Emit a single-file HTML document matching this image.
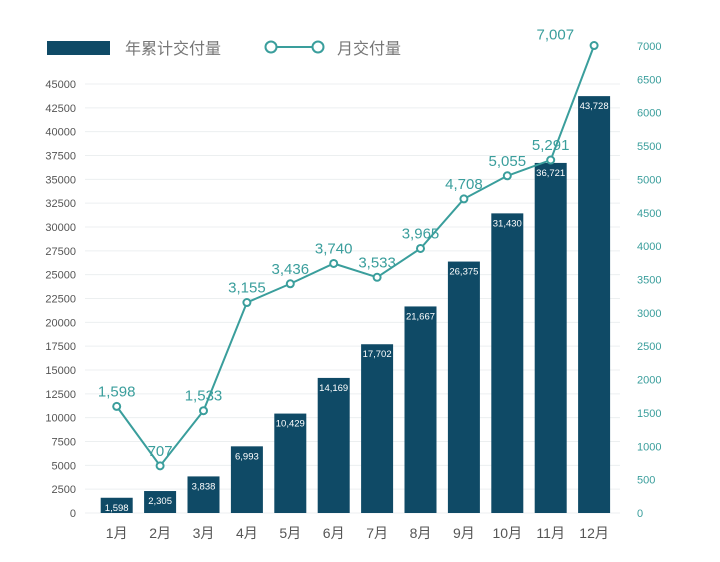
<!DOCTYPE html>
<html><head><meta charset="utf-8"><style>
body{margin:0;background:#fff;}
svg{display:block;font-family:"Liberation Sans","Noto Sans CJK SC",sans-serif;}
</style></head><body>
<svg id="c" width="720" height="562">
<g id="legend">
<rect x="47" y="41" width="63" height="14" fill="#0f4a66"/>
<text x="125" y="54" font-size="16" fill="#777">年累计交付量</text>
<line x1="271" y1="47" x2="318" y2="47" stroke="#3a9e9c" stroke-width="2"/>
<circle cx="271" cy="47" r="5.5" fill="#fff" stroke="#3a9e9c" stroke-width="2"/>
<circle cx="318" cy="47" r="5.5" fill="#fff" stroke="#3a9e9c" stroke-width="2"/>
<text x="337" y="54" font-size="16" fill="#777">月交付量</text>
</g>
</svg>
<script>
const categories=["1月","2月","3月","4月","5月","6月","7月","8月","9月","10月","11月","12月"];
const cumulative=[1598,2305,3838,6993,10429,14169,17702,21667,26375,31430,36721,43728];
const monthly=[1598,707,1533,3155,3436,3740,3533,3965,4708,5055,5291,7007];
const leftTicks=[0,2500,5000,7500,10000,12500,15000,17500,20000,22500,25000,27500,30000,32500,35000,37500,40000,42500,45000];
const rightTicks=[0,500,1000,1500,2000,2500,3000,3500,4000,4500,5000,5500,6000,6500,7000];
const NS="http://www.w3.org/2000/svg";
const svg=document.getElementById('c');
const base=513;
const yL=v=>base-v*(429/45000);
const yR=v=>base-v*(467/7000);
const xC=i=>116.7+i*43.4;
function mk(t,a,p){const e=document.createElementNS(NS,t);for(const k in a)e.setAttribute(k,a[k]);(p||svg).appendChild(e);return e;}
const fmt=v=>v.toLocaleString('en-US');
leftTicks.forEach(v=>{
 const g=mk('line',{x1:85,x2:620,y1:yL(v),y2:yL(v),stroke:'#eceff0','stroke-width':1});
 
 
 const t=mk('text',{x:76,y:yL(v)+4,'font-size':11,fill:'#555','text-anchor':'end'});
 t.textContent=v;
 
 
});
rightTicks.forEach(v=>{
 const t=mk('text',{x:637,y:yR(v)+4,'font-size':11,fill:'#3a9e9c'});
 t.textContent=v;
 
 
});
categories.forEach((c,i)=>{
 const h=base-yL(cumulative[i]);
 const r=mk('rect',{x:xC(i)-16,y:yL(cumulative[i]),width:32,height:h,fill:'#0f4a66'});
 
 
 const t=mk('text',{x:xC(i),y:yL(cumulative[i])+13,'font-size':9.5,fill:'#fff','text-anchor':'middle'});
 t.textContent=fmt(cumulative[i]);
 
 
 const m=mk('text',{x:xC(i),y:538,'font-size':14,fill:'#555','text-anchor':'middle'});
 m.textContent=c;
 
 
});
const pts=monthly.map((v,i)=>xC(i)+','+yR(v)).join(' ');
const pl=mk('polyline',{points:pts,fill:'none',stroke:'#3a9e9c','stroke-width':2});


monthly.forEach((v,i)=>{
 const c=mk('circle',{cx:xC(i),cy:yR(v),r:3.5,fill:'#fff',stroke:'#3a9e9c','stroke-width':2});
 
 
 const t=mk('text',{x:xC(i)-(i==11?20:0),y:yR(v)-10+(i==11?4:0),'font-size':15,fill:'#3a9e9c','text-anchor':i==11?'end':'middle'});
 t.textContent=fmt(v);
 
 
});
</script>
</body></html>
